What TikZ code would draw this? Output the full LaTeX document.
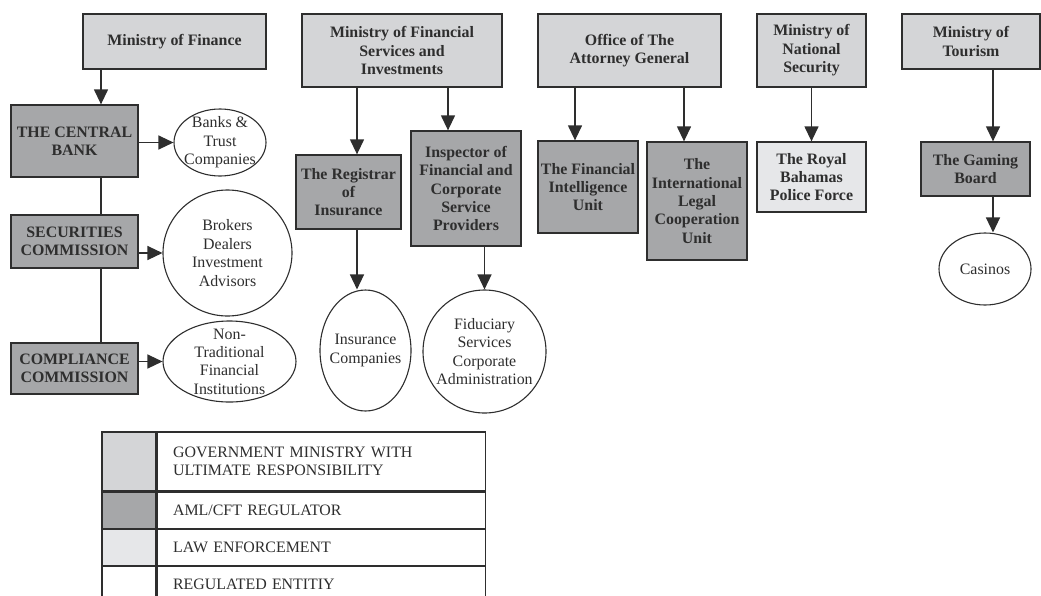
\documentclass[tikz,border=0pt]{standalone}
\usepackage{fontspec}
\setmainfont{Liberation Serif}
\usepackage{tikz}
\usetikzlibrary{shapes.geometric, arrows.meta, positioning, calc}
\usepackage{xcolor}
\definecolor{Ink}{HTML}{2E2E2E}
\definecolor{MinistryGrey}{HTML}{D4D5D7}
\definecolor{RegulatorGrey}{HTML}{A6A7A9}
\definecolor{PoliceGrey}{HTML}{E6E7E9}

\begin{document}
\begin{tikzpicture}[
            x=1pt, y=-1pt,
            box/.style={
                rectangle,
                draw=Ink,
                line width=1.3pt,
                inner sep=2pt,
                align=center,
                font=\fontsize{15.9}{18.4}\selectfont\bfseries,
                text=Ink
            },
            ministry/.style={box, fill=MinistryGrey},
            regulator/.style={box, fill=RegulatorGrey},
            police/.style={box, fill=PoliceGrey},
            entity/.style={ellipse, draw=Ink, line width=1.1pt, fill=white, inner sep=0pt},
            entitytext/.style={align=center, font=\fontsize{15.9}{18.4}\selectfont, text=Ink},
            arrow/.style={-{Triangle[length=15pt, width=14pt]}, line width=1.3pt, draw=Ink},
            link/.style={line width=1.3pt, draw=Ink},
            swatch/.style={rectangle, draw=Ink, line width=1.1pt, minimum width=54pt},
            keytext/.style={
                rectangle,
                draw=Ink,
                line width=1.1pt,
                text width=296pt,
                inner xsep=16pt,
                align=left,
                font=\fontsize{15.9}{18.4}\selectfont,
                text=Ink
            }
        ]
            \useasboundingbox (0,0) rectangle (1041,595);
            \clip (0,0) rectangle (1041,595);

            % Ministries
            \node[ministry, minimum width=183pt, minimum height=55pt] (mof) at (174.5,41.5) {Ministry of Finance};
            \node[ministry, minimum width=200pt, minimum height=73pt] (mofs) at (402,50.5) {Ministry of Financial\\Services and\\Investments};
            \node[ministry, minimum width=183pt, minimum height=73pt] (oag) at (629.5,50.5) {Office of The\\Attorney General};
            \node[ministry, minimum width=109pt, minimum height=73pt] (mns) at (811.5,50.5) {Ministry of\\National\\Security};
            \node[ministry, minimum width=138pt, minimum height=55pt] (mot) at (971,41.5) {Ministry of\\Tourism};

            % Regulators and law enforcement
            \node[regulator, minimum width=127pt, minimum height=72pt] (cbank) at (74.5,141) {THE CENTRAL\\BANK};
            \node[regulator, minimum width=127pt, minimum height=53pt] (sec) at (74.5,241.5) {SECURITIES\\COMMISSION};
            \node[regulator, minimum width=127pt, minimum height=51pt] (comp) at (74.5,368.5) {COMPLIANCE\\COMMISSION};
            \node[regulator, minimum width=105pt, minimum height=74pt] (reg) at (348.5,192) {The Registrar\\of\\Insurance};
            \node[regulator, minimum width=110pt, minimum height=115pt] (insp) at (466,188.5) {Inspector of\\Financial and\\Corporate\\Service\\Providers};
            \node[regulator, minimum width=100pt, minimum height=92pt] (fiu) at (588,187) {The Financial\\Intelligence\\Unit};
            \node[regulator, minimum width=100pt, minimum height=118pt] (ilcu) at (697,201) {The\\International\\Legal\\Cooperation\\Unit};
            \node[police, minimum width=109pt, minimum height=70pt] (rbpf) at (811.5,177) {The Royal\\Bahamas\\Police Force};
            \node[regulator, minimum width=109pt, minimum height=54pt] (gb) at (975.5,169) {The Gaming\\Board};

            % Regulated entities
            \node[entity, minimum width=92pt, minimum height=67pt, label={[entitytext]center:{Banks \&\\Trust\\Companies}}] (banks) at (220,142.5) {};
            \node[entity, minimum width=129pt, minimum height=126pt, label={[entitytext]center:{Brokers\\Dealers\\Investment\\Advisors}}] (brokers) at (227.5,253) {};
            \node[entity, minimum width=133pt, minimum height=81pt, label={[entitytext]center:{Non-\\Traditional\\Financial\\Institutions}}] (ntfi) at (229.5,361.5) {};
            \node[entity, minimum width=91pt, minimum height=121pt, label={[entitytext]center:{Insurance\\Companies}}] (ins) at (365.5,350.5) {};
            \node[entity, minimum width=123pt, minimum height=123pt, label={[entitytext]center:{Fiduciary\\Services\\Corporate\\Administration}}] (fid) at (484.5,351.5) {};
            \node[entity, minimum width=92pt, minimum height=72pt, label={[entitytext]center:Casinos}] (casinos) at (985,269) {};

            % Columns the connectors run down
            \coordinate (spine) at (101,0);
            \coordinate (colreg) at (357,0);
            \coordinate (colinsp) at (448,0);
            \coordinate (colfiu) at (575,0);
            \coordinate (colilcu) at (684,0);
            \coordinate (colgame) at (993,0);

            % Ministry of Finance chain
            \draw[arrow] (mof.south -| spine) -- (cbank.north -| spine);
            \draw[link] (cbank.south -| spine) -- (sec.north -| spine);
            \draw[link] (sec.south -| spine) -- (comp.north -| spine);
            \draw[arrow] (cbank.east |- banks) -- (banks);
            \draw[arrow] (sec.east |- brokers) -- (brokers);
            \draw[arrow] (comp.east |- ntfi) -- (ntfi);

            % Financial services
            \draw[arrow] (mofs.south -| colreg) -- (reg.north -| colreg);
            \draw[arrow] (mofs.south -| colinsp) -- (insp.north -| colinsp);
            \draw[arrow] (reg.south -| colreg) -- (ins.north -| colreg);
            \draw[arrow] (insp.south -| fid.north) -- (fid.north);

            % Attorney General, National Security, Tourism
            \draw[arrow] (oag.south -| colfiu) -- (fiu.north -| colfiu);
            \draw[arrow] (oag.south -| colilcu) -- (ilcu.north -| colilcu);
            \draw[arrow] (mns) -- (rbpf);
            \draw[arrow] (mot.south -| colgame) -- (gb.north -| colgame);
            \draw[arrow] (gb.south -| colgame) -- (casinos.north -| colgame);

            % Key
            \node[swatch, fill=MinistryGrey, minimum height=59pt] (keymin) at (129,461.5) {};
            \node[keytext, minimum height=59pt, right=0pt of keymin] (keymintext) {GOVERNMENT MINISTRY WITH\\ULTIMATE RESPONSIBILITY};
            \node[swatch, fill=RegulatorGrey, minimum height=36pt, below=0pt of keymin] (keyreg) {};
            \node[keytext, minimum height=36pt, right=0pt of keyreg] (keyregtext) {AML/CFT REGULATOR};
            \node[swatch, fill=PoliceGrey, minimum height=36pt, below=0pt of keyreg] (keylaw) {};
            \node[keytext, minimum height=36pt, right=0pt of keylaw] (keylawtext) {LAW ENFORCEMENT};
            \node[swatch, fill=white, minimum height=36pt, below=0pt of keylaw] (keyent) {};
            \node[keytext, minimum height=36pt, right=0pt of keyent] (keyenttext) {REGULATED ENTITIY};
        \end{tikzpicture}
\end{document}
